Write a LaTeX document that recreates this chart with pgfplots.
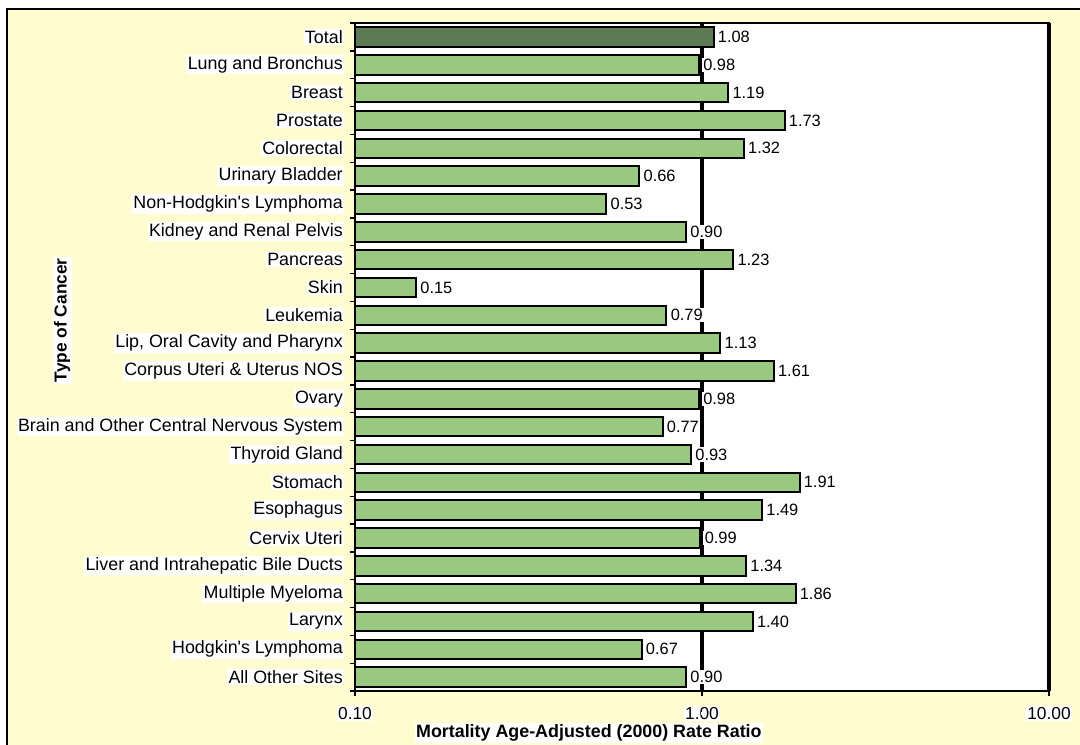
\documentclass[border=0pt]{standalone}
\usepackage{pgfplots}
\pgfplotsset{compat=1.18}
\usepackage{fontspec}
\setmainfont{Liberation Sans}
\definecolor{bgyellow}{RGB}{255,253,208}
\definecolor{bargreen}{RGB}{153,201,128}
\definecolor{totalgreen}{RGB}{92,122,84}
\begin{document}
\begin{tikzpicture}
\useasboundingbox (0pt,0pt) rectangle (810pt,558pt);
\begin{scope}
\clip (0pt,0pt) rectangle (810pt,558pt);
\draw[line width=1.5pt, fill=bgyellow] (5.25pt,551.25pt) rectangle (830pt,-20pt);
\end{scope}
\begin{axis}[
  at={(266.25pt,39.75pt)}, anchor=south west,
  scale only axis, width=520.5pt, height=501pt,
  xmode=log, xmin=0.1, xmax=10,
  log origin x=infty,
  ymin=-0.5, ymax=23.5, y dir=reverse,
  axis background/.style={fill=white},
  axis line style={line width=1.2pt},
  /pgf/number format/assume math mode=true,
  xtick={0.1,1,10}, xticklabels={0.10,1.00,10.00},
  minor x tick style={draw=none},
  ytick={0,...,23},
  yticklabels={Total,Lung and Bronchus,Breast,Prostate,Colorectal,Urinary Bladder,Non-Hodgkin\textquotesingle s Lymphoma,Kidney and Renal Pelvis,Pancreas,Skin,Leukemia,{Lip, Oral Cavity and Pharynx},Corpus Uteri \& Uterus NOS,Ovary,Brain and Other Central Nervous System,Thyroid Gland,Stomach,Esophagus,Cervix Uteri,Liver and Intrahepatic Bile Ducts,Multiple Myeloma,Larynx,Hodgkin\textquotesingle s Lymphoma,All Other Sites},
  minor ytick={-0.5,0.5,...,23.5},
  major y tick style={draw=none},
  minor y tick style={black, line width=1pt},
  tick align=outside, tick pos=left,
  major tick length=4pt, minor tick length=4pt,
  x tick style={black, line width=1pt},
  extra x ticks={1}, extra x tick labels={},
  extra x tick style={grid=major, major grid style={black, line width=2.5pt}},
  yticklabel style={font=\fontsize{13.4}{15}\selectfont, fill=white, inner sep=1pt, xshift=-4pt},
  xticklabel style={font=\fontsize{13}{15}\selectfont, fill=white, inner sep=1pt, anchor=center, yshift=-13pt},
  xlabel={Mortality Age-Adjusted (2000) Rate Ratio},
  xlabel style={font=\bfseries\fontsize{13.4}{15}\selectfont, fill=white, inner sep=1pt, at={(axis description cs:0.337,-0.063)}, anchor=center},
  ylabel={Type of Cancer},
  ylabel style={font=\bfseries\fontsize{13}{15}\selectfont, fill=white, inner sep=1pt, at={(axis description cs:-0.422,0.555)}, anchor=center},
  clip=false,
]
\addplot[xbar, bar width=0.7, bar shift=0pt, fill=totalgreen, draw=black, line width=1.5pt,
  point meta=rawx, nodes near coords={\pgfmathprintnumber[fixed,fixed zerofill,precision=2]{\pgfplotspointmeta}},
  nodes near coords style={font=\fontsize{12.3}{14}\selectfont, anchor=west, fill=white, inner sep=1pt, xshift=1.5pt}]
  coordinates {(1.08,0)};
\addplot[xbar, bar width=0.7, bar shift=0pt, fill=bargreen, draw=black, line width=1.5pt,
  point meta=rawx, nodes near coords={\pgfmathprintnumber[fixed,fixed zerofill,precision=2]{\pgfplotspointmeta}},
  nodes near coords style={font=\fontsize{12.3}{14}\selectfont, anchor=west, fill=white, inner sep=1pt, xshift=1.5pt}]
  coordinates {
  (0.98,1) (1.19,2) (1.73,3) (1.32,4) (0.66,5) (0.53,6) (0.90,7) (1.23,8)
  (0.15,9) (0.79,10) (1.13,11) (1.61,12) (0.98,13) (0.77,14) (0.93,15)
  (1.91,16) (1.49,17) (0.99,18) (1.34,19) (1.86,20) (1.40,21) (0.67,22) (0.90,23)
  };
\draw[line width=3pt] (rel axis cs:1,0) -- (rel axis cs:1,1);
\end{axis}
\end{tikzpicture}
\end{document}
